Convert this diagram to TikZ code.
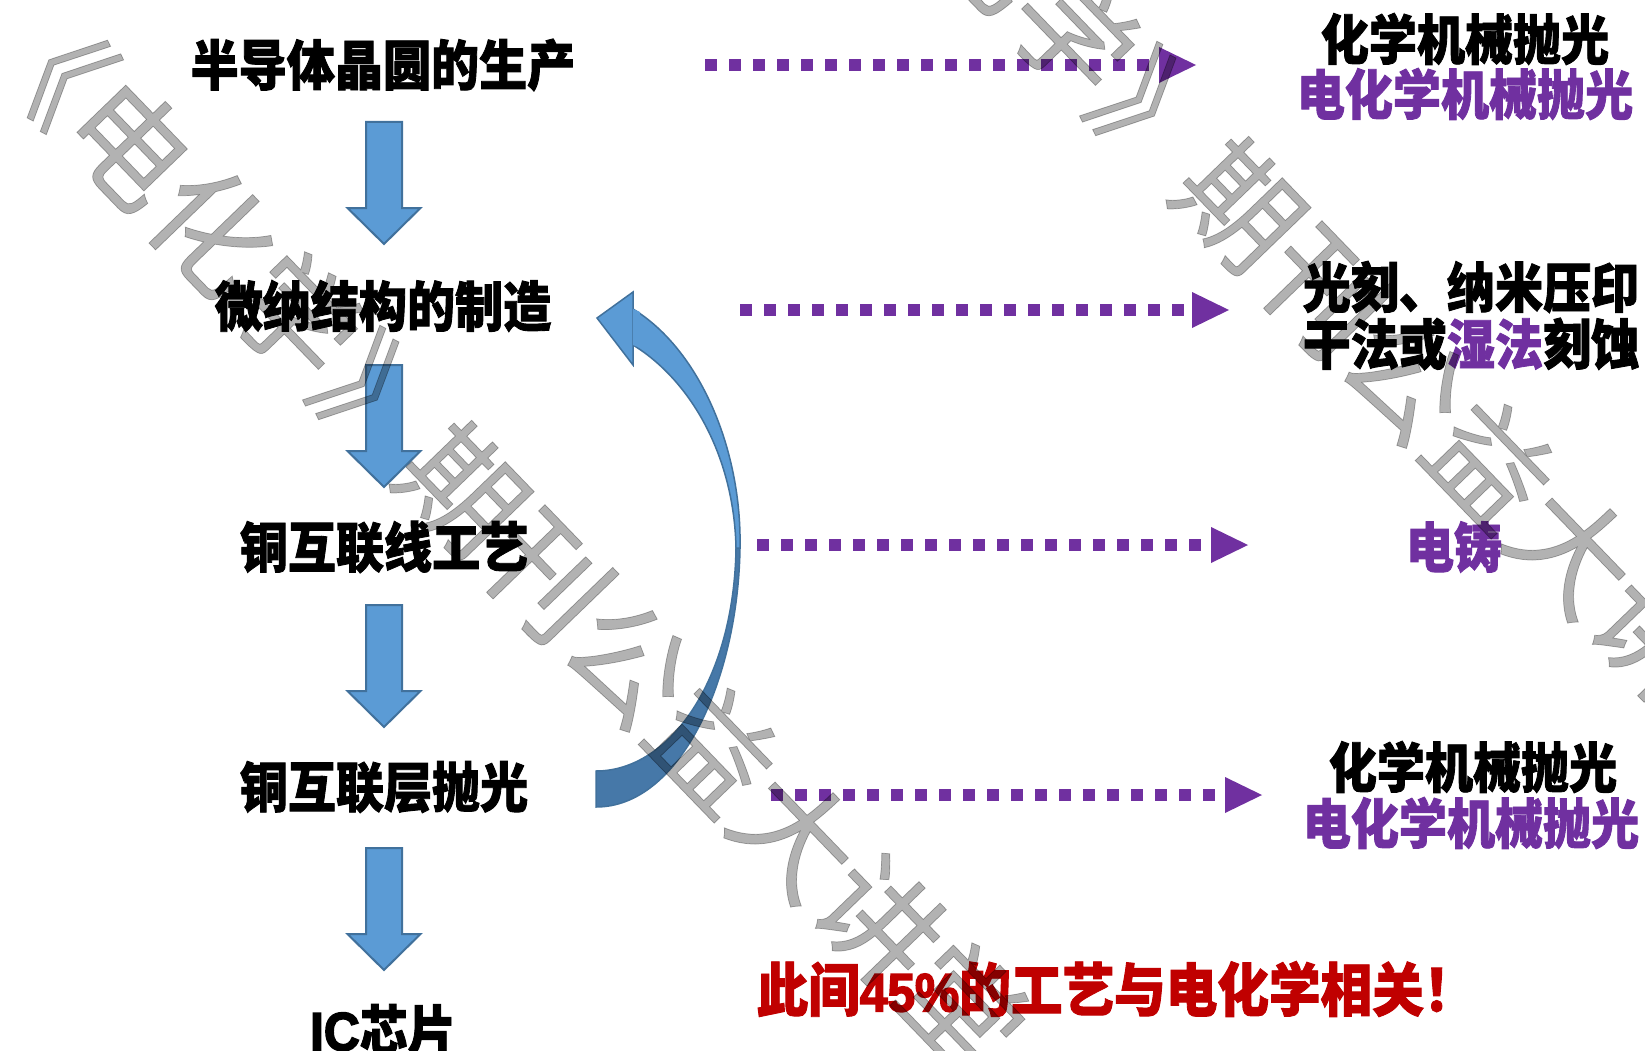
\documentclass[tikz,border=0pt]{standalone}
\usepackage{fontspec}
\newfontfamily\cjk{Noto Sans CJK SC}[FakeStretch=0.89, BoldFeatures={FakeBold=1.6}]
\newfontfamily\latinb{Liberation Sans}[FakeStretch=0.92, BoldFeatures={FakeBold=3}]
\newfontfamily\wmfont{Noto Sans CJK SC}[FakeBold=0.6]
\usetikzlibrary{arrows.meta}
\definecolor{myblue}{RGB}{91,155,213}
\definecolor{myblueedge}{RGB}{65,113,156}
\definecolor{mydark}{RGB}{70,120,168}
\definecolor{mypurple}{RGB}{112,48,160}
\definecolor{myred}{RGB}{192,0,0}
\definecolor{wmgray}{RGB}{178,178,178}
\begin{document}
\begin{tikzpicture}[x=1pt,y=-1pt,
  steptext/.style={font=\cjk\bfseries\fontsize{54}{57}\selectfont, inner sep=0pt, align=center, text=black},
  purpletext/.style={steptext, text=mypurple},
  redtext/.style={steptext, font=\cjk\bfseries\fontsize{58}{60}\selectfont, text=myred},
  blockarrow/.style={fill=myblue, draw=myblueedge, line width=2pt, line join=miter},
  curvelight/.style={fill=myblue, draw=myblueedge, line width=1.5pt},
  curvedark/.style={fill=mydark, draw=myblueedge, line width=1.5pt},
  dotarrow/.style={draw=mypurple, line width=12pt, dash pattern=on 12pt off 12pt,
    -{Triangle[length=37pt,width=36pt,line width=0pt]}},
  watermark/.style={font=\wmfont\fontsize{120}{120}\selectfont, text=wmgray, inner sep=0pt},
  downarrow/.pic={\draw[blockarrow] (-18,0) -- (18,0) -- (18,86) -- (36.5,86) -- (0,122) -- (-36.5,86) -- (-18,86) -- cycle;}
]
\useasboundingbox (0,0) rectangle (1645,1051);
\fill[white] (0,0) rectangle (1645,1051);

% left column
\node[steptext] (s1) at (383,65) {半导体晶圆的生产};
\node[steptext] (s2) at (383,306) {微纳结构的制造};
\node[steptext] (s3) at (384,547) {铜互联线工艺};
\node[steptext] (s4) at (384,787) {铜互联层抛光};
\node[steptext] (s5) at (383,1030) {{\latinb\bfseries\fontsize{54}{57}\selectfont IC}芯片};

\pic at (384,122) {downarrow};
\pic at (384,365) {downarrow};
\pic at (384,605) {downarrow};
\pic at (384,848) {downarrow};

% curved arrow (from s4 back to s2)
\fill[curvedark] (740,548) .. controls (738,680) and (680,807) .. (596,807)
  -- (596,771) .. controls (670,771) and (734,680) .. (736,548) -- cycle;
\fill[curvelight] (633,309) .. controls (700,350) and (742,450) .. (740,548)
  -- (736,548) .. controls (734,455) and (690,380) .. (633,345) -- cycle;
\draw[curvelight] (633,292) -- (597,318) -- (633,365) -- (633,345) -- (633,309) -- cycle;
\fill[myblue] (633,309) -- (633,345) -- (640,348) -- (640,312) -- cycle;

% right column
\node[steptext] (r1a) at (1465,39) {化学机械抛光};
\node[purpletext] (r1b) at (1465,94) {电化学机械抛光};
\node[steptext] (r2a) at (1471,287) {光刻、纳米压印};
\node[steptext] (r2b) at (1471,344) {干法或\textcolor{mypurple}{湿法}刻蚀};
\node[purpletext] (r3) at (1454,547) {电铸};
\node[steptext] (r4a) at (1473,767) {化学机械抛光};
\node[purpletext] (r4b) at (1471,823) {电化学机械抛光};

\node[redtext] (note) at (1116,989) {此间{\latinb\bfseries\fontsize{54}{57}\selectfont 45\%}的工艺与电化学相关！};

% dotted arrows
\coordinate (d1s) at (705,65);  \coordinate (d1e) at (1196,65);
\coordinate (d2s) at (740,310); \coordinate (d2e) at (1229,310);
\coordinate (d3s) at (757,545); \coordinate (d3e) at (1248,545);
\coordinate (d4s) at (771,795); \coordinate (d4e) at (1262,795);
\draw[dotarrow] (d1s) -- (d1e);
\draw[dotarrow] (d2s) -- (d2e);
\draw[dotarrow] (d3s) -- (d3e);
\draw[dotarrow] (d4s) -- (d4e);

% watermark
\begin{scope}[blend mode=multiply]
\node[watermark, rotate=-46] (wm1) at (505,532) {《电化学》期刊公益大讲堂};
\node[watermark, rotate=-46] (wm2) at (1282,248) {《电化学》期刊公益大讲堂};
\end{scope}
\end{tikzpicture}
\end{document}
